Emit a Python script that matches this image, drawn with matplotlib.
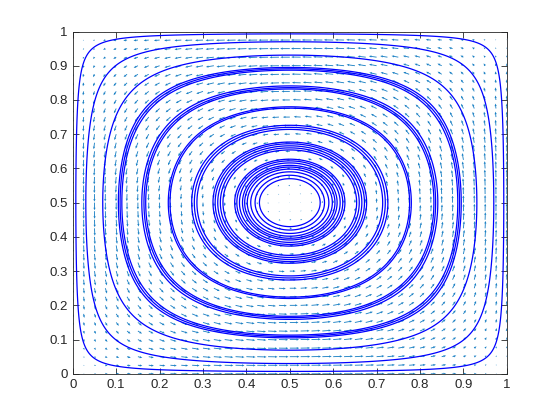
import numpy as np
import matplotlib
matplotlib.use("Agg")
import matplotlib.pyplot as plt

plt.rcParams["font.family"] = ["Liberation Sans", "DejaVu Sans"]

# ---------- data ----------
# quiver grid (0:0.025:1 in both directions)
grid_step = 0.025
grid_n = 41

# streamline crossings of the horizontal line y = 0.5
cross_x = [0.007, 0.030, 0.069,
           0.105, 0.109, 0.113,
           0.159, 0.164, 0.168,
           0.220, 0.224,
           0.274, 0.280, 0.286,
           0.323, 0.328, 0.334, 0.340, 0.346,
           0.373, 0.378, 0.384, 0.391, 0.396, 0.402, 0.410, 0.420, 0.430]

xticks = [0, 0.1, 0.2, 0.3, 0.4, 0.5, 0.6, 0.7, 0.8, 0.9, 1]
xticklabels = ["0", "0.1", "0.2", "0.3", "0.4", "0.5", "0.6", "0.7", "0.8", "0.9", "1"]
yticks = xticks
yticklabels = xticklabels

# ---------- cellular flow: psi = sin(pi x) sin(pi y) ----------
g = np.arange(grid_n) * grid_step
X, Y = np.meshgrid(g, g)
U = np.sin(np.pi * X) * np.cos(np.pi * Y)
V = -np.cos(np.pi * X) * np.sin(np.pi * Y)

# matlab-like autoscale
L = np.sqrt((U / grid_step) ** 2 + (V / grid_step) ** 2)
k = 0.9 / L.max()
Us, Vs = U * k, V * k

fine = np.linspace(0, 1, 501)
FX, FY = np.meshgrid(fine, fine)
PSI = np.sin(np.pi * FX) * np.sin(np.pi * FY)
levels = np.unique(np.sin(np.pi * np.array(cross_x)))

# ---------- plot ----------
fig = plt.figure(figsize=(5.6, 4.2), dpi=100)
ax = fig.add_axes([0.13, 0.11, 0.775, 0.815])

ax.quiver(X, Y, Us, Vs, angles="xy", scale_units="xy", scale=1,
          color="#0072BD", width=0.002, headwidth=2.6, headlength=3.0,
          headaxislength=2.8, minlength=0.5, alpha=0.9, zorder=2)
ax.contour(FX, FY, PSI, levels=levels, colors="#0000FF", linewidths=0.9, zorder=3)

ax.set_xlim(0, 1)
ax.set_ylim(0, 1)
ax.set_xticks(xticks)
ax.set_xticklabels(xticklabels)
ax.set_yticks(yticks)
ax.set_yticklabels(yticklabels)
ax.tick_params(direction="in", length=4, width=0.6, colors="#262626",
               labelsize=9.5, top=True, right=True, labeltop=False, labelright=False)
for s in ax.spines.values():
    s.set_linewidth(0.6)
    s.set_color("#262626")

fig.savefig("out.png", dpi=100)
